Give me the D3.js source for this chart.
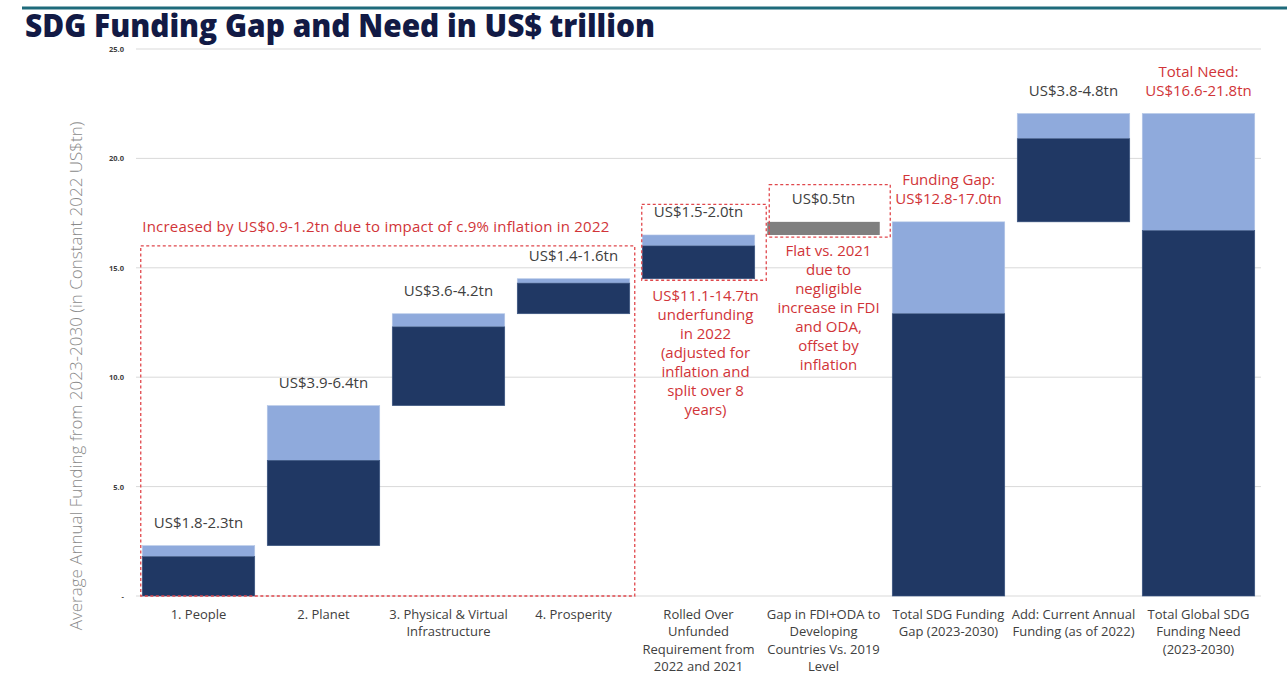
<!DOCTYPE html>
<html>
<head>
<meta charset="utf-8">
<script src="https://cdn.jsdelivr.net/npm/d3@7"></script>
<style>
  html, body { margin: 0; padding: 0; background: #fff; }
  svg { display: block; font-family: "Open Sans", "Noto Sans", sans-serif; }
</style>
</head>
<body>
<svg id="chart" width="1287" height="675"></svg>
<script>
// ---------- data ----------
const categories = [
  "1. People|",
  "2. Planet|",
  "3. Physical & Virtual|Infrastructure",
  "4. Prosperity|",
  "Rolled Over|Unfunded|Requirement from|2022 and 2021",
  "Gap in FDI+ODA to|Developing|Countries Vs. 2019|Level",
  "Total SDG Funding|Gap (2023-2030)",
  "Add: Current Annual|Funding (as of 2022)",
  "Total Global SDG|Funding Need|(2023-2030)"
];
const baseValues = [0, 2.3, 8.7, 12.9, 14.5, 16.5, 0, 17.1, 0];
const lowValues  = [1.8, 3.9, 3.6, 1.4, 1.5, 0.6, 12.9, 3.8, 16.7];
const highValues = [2.3, 6.4, 4.2, 1.6, 2.0, 0.6, 17.1, 4.95, 22.05];
const barKinds   = ["range","range","range","range","range","flat","range","range","range"];
const barLabels  = ["US$1.8-2.3tn","US$3.9-6.4tn","US$3.6-4.2tn","US$1.4-1.6tn","US$1.5-2.0tn","US$0.5tn","","US$3.8-4.8tn",""];
const redLabels  = ["","","","","","","Funding Gap:|US$12.8-17.0tn","","Total Need:|US$16.6-21.8tn"];
const noteRolled = ["US$11.1-14.7tn","underfunding","in 2022","(adjusted for","inflation and","split over 8","years)"];
const noteFlat   = ["Flat vs. 2021","due to","negligible","increase in FDI","and ODA,","offset by","inflation"];
const noteInflation = "Increased by US$0.9-1.2tn due to impact of c.9% inflation in 2022";
const yTicks = [0, 5, 10, 15, 20, 25];
const title = "SDG Funding Gap and Need in US$ trillion";
const yTitle = "Average Annual Funding from 2023-2030 (in Constant 2022 US$tn)";

// ---------- styles ----------
const DARK = "#203864", LIGHT = "#8faadc", GREY = "#7f7f7f", RED = "#d13438", TXT = "#404040";
const FS = 15;

const svg = d3.select("#chart");

// top rule + title
svg.append("line").attr("x1", 22).attr("x2", 1287).attr("y1", 8).attr("y2", 8)
  .attr("stroke", "#1e6b7b").attr("stroke-width", 3);
svg.append("text").attr("x", 25).attr("y", 37).text(title)
  .attr("font-size", 31).attr("font-weight", 800).attr("fill", "#121a45")
  .attr("textLength", 630).attr("lengthAdjust", "spacingAndGlyphs");

// scales
const x = d3.scaleBand().domain(categories).range([136, 1261]).paddingInner(0.1).paddingOuter(0.05);
const y = d3.scaleLinear().domain([0, 25]).range([596, 49]);

// gridlines
svg.append("g").selectAll("line").data(yTicks).join("line")
  .attr("x1", 136).attr("x2", 1261)
  .attr("y1", d => y(d)).attr("y2", d => y(d))
  .attr("stroke", "#d9d9d9").attr("stroke-width", 1);

// y axis
const yAxis = svg.append("g").attr("transform", "translate(136,0)")
  .call(d3.axisLeft(y).tickValues(yTicks).tickSize(0).tickPadding(12)
    .tickFormat(d => d === 0 ? "-" : d3.format(".1f")(d)));
yAxis.select(".domain").remove();
yAxis.selectAll("text").attr("font-size", 7.5).attr("font-weight", 700).attr("fill", TXT)
  .attr("font-family", "'Open Sans', sans-serif");

// y title
svg.append("text").attr("transform", "translate(82,376) rotate(-90)")
  .attr("text-anchor", "middle").attr("font-size", 17).attr("font-weight", 300)
  .attr("fill", "#8a8a8a").text(yTitle);

// bars
const idx = d3.range(categories.length);
const gBars = svg.append("g");
idx.forEach(i => {
  const x0 = x(categories[i]), w = x.bandwidth();
  const b = baseValues[i];
  if (barKinds[i] === "flat") {
    gBars.append("rect").attr("x", x0).attr("width", w)
      .attr("y", y(b + highValues[i])).attr("height", y(b) - y(b + highValues[i]))
      .attr("fill", GREY);
  } else {
    gBars.append("rect").attr("x", x0).attr("width", w)
      .attr("y", y(b + highValues[i])).attr("height", y(b + lowValues[i]) - y(b + highValues[i]))
      .attr("fill", LIGHT).attr("stroke", "#b4c7e7").attr("stroke-width", 0.6);
    gBars.append("rect").attr("x", x0).attr("width", w)
      .attr("y", y(b + lowValues[i])).attr("height", y(b) - y(b + lowValues[i]))
      .attr("fill", DARK).attr("stroke", "#3a5582").attr("stroke-width", 0.6);
  }
});

// value labels above bars
idx.forEach(i => {
  const cx = x(categories[i]) + x.bandwidth() / 2;
  const top = y(baseValues[i] + highValues[i]);
  if (barLabels[i]) {
    svg.append("text").attr("x", cx).attr("y", top - 18)
      .attr("text-anchor", "middle").attr("font-size", FS).attr("fill", TXT).text(barLabels[i]);
  }
  if (redLabels[i]) {
    const lines = redLabels[i].split("|");
    const t = svg.append("text").attr("text-anchor", "middle").attr("font-size", FS).attr("fill", RED);
    lines.forEach((l, k) => t.append("tspan").attr("x", cx)
      .attr("y", top - 18 - (lines.length - 1 - k) * 18.5).text(l));
  }
});

// x labels
idx.forEach(i => {
  const cx = x(categories[i]) + x.bandwidth() / 2;
  const t = svg.append("text").attr("text-anchor", "middle").attr("font-size", 13).attr("fill", TXT);
  categories[i].split("|").filter(s => s).forEach((l, k) =>
    t.append("tspan").attr("x", cx).attr("y", 619 + k * 17.3).text(l));
});

// dashed annotation boxes
function box(x1, x2, y1, y2) {
  svg.append("rect").attr("x", x1).attr("y", y1).attr("width", x2 - x1).attr("height", y2 - y1)
    .attr("fill", "none").attr("stroke", "#e0474c").attr("stroke-width", 1.3)
    .attr("stroke-dasharray", "3,2.5");
}
const c = categories;
box(x(c[0]) - 1.5, x(c[3]) + x.bandwidth() + 5, y(16.0), y(0));
box(x(c[4]) - 0.5, x(c[4]) + x.bandwidth() + 11.5, y(17.9), y(14.5) + 1.5);
box(x(c[5]) + 2, x(c[5]) + x.bandwidth() + 10.5, y(18.8), y(16.4));

// inflation note
svg.append("text").attr("x", x(c[0])).attr("y", 232).attr("font-size", FS).attr("fill", RED)
  .attr("textLength", 467).attr("lengthAdjust", "spacing")
  .text(noteInflation);

// notes under boxes
function note(lines, cx, y0) {
  const t = svg.append("text").attr("text-anchor", "middle").attr("font-size", FS).attr("fill", RED);
  lines.forEach((l, k) => t.append("tspan").attr("x", cx).attr("y", y0 + k * 19).text(l));
}
note(noteRolled, x(c[4]) + x.bandwidth() / 2 + 7, 301);
note(noteFlat, x(c[5]) + x.bandwidth() / 2 + 5, 256);
</script>
</body>
</html>
